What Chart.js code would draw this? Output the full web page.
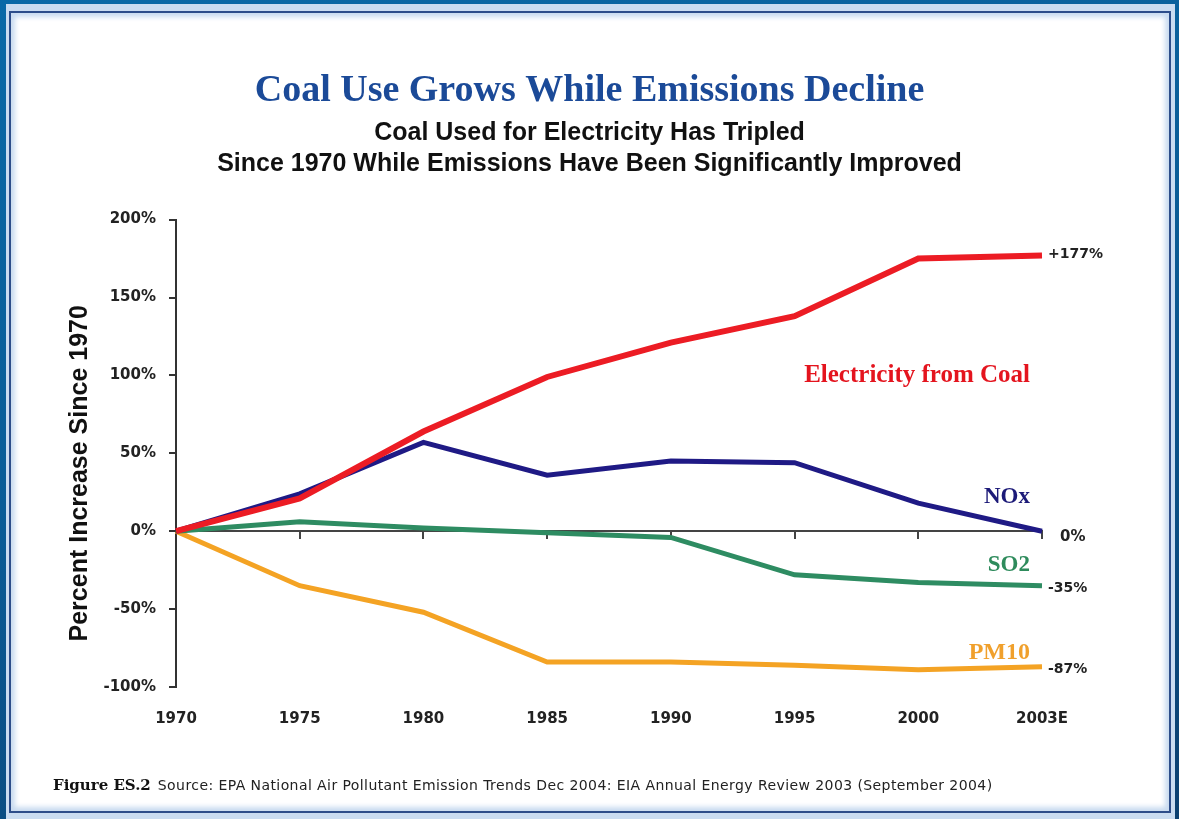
<!DOCTYPE html>
<html>
<head>
<meta charset="utf-8">
<script src="https://cdn.jsdelivr.net/npm/chart.js@4.4.1/dist/chart.umd.min.js"></script>
<style>
  html, body { margin: 0; padding: 0; width: 1179px; height: 819px; overflow: hidden; }
  body { position: relative; background: linear-gradient(165deg, #0a69a7 0%, #0a5c97 45%, #0b3f70 100%); }
  .frame { position: absolute; left: 6px; top: 4px; width: 1169px; height: 815px; background: #cadcf1; }
  .panel { position: absolute; left: 3px; top: 7px; width: 1158px; height: 798px; border: 2px solid #2d4d8a;
           background: #fff; box-shadow: inset 0 0 5px 4px #c9dbf0; }
  #chart { position: absolute; left: 0; top: 0; }
  .footer { position: absolute; left: 53px; top: 776px; white-space: nowrap; color: #222; }
  .footer .fig { font: bold 15px "DejaVu Serif", serif; color: #111; margin-right: 7px; }
  .footer .src { font: 14px "DejaVu Sans", sans-serif; letter-spacing: 0.42px; }
</style>
</head>
<body>
<div class="frame"><div class="panel"></div></div>
<canvas id="chart" width="1179" height="819"></canvas>
<div class="footer"><span class="fig">Figure ES.2</span><span class="src">Source: EPA National Air Pollutant Emission Trends Dec 2004: EIA Annual Energy Review 2003 (September 2004)</span></div>
<script>
// Percent change since 1970
const years = ['1970', '1975', '1980', '1985', '1990', '1995', '2000', '2003E'];
const coalElectricity = [0, 21, 64, 99, 121, 138, 175, 177];
const nox = [0, 24, 57, 36, 45, 44, 18, 0];
const so2 = [0, 6, 2, -1, -4, -28, -33, -35];
const pm10 = [0, -35, -52, -84, -84, -86, -89, -87];
const seriesNames = ['Electricity from Coal', 'NOx', 'SO2', 'PM10'];
const yMin = -100, yMax = 200, yStep = 50;
const yAxisTitle = 'Percent Increase Since 1970';

// Styling of each series, its name tag and its end-value tag
const looks = [
  { color: '#ec1c24', text: '#e4141e', width: 6, nameAt: 100, nameSize: 25, endDx: 6, endDy: -1, endSize: 14 },
  { color: '#1f1a85', text: '#1c1a78', width: 5, nameAt: 22, nameSize: 23, endDx: 18, endDy: 6, endSize: 15 },
  { color: '#2e8c62', text: '#2e8b5c', width: 5, nameAt: -22, nameSize: 23, endDx: 6, endDy: 3, endSize: 14 },
  { color: '#f4a324', text: '#f0a02c', width: 5, nameAt: -78, nameSize: 24, endDx: 6, endDy: 3, endSize: 14 }
];
const seriesValues = [coalElectricity, nox, so2, pm10];

const tagPlugin = {
  id: 'seriesTags',
  afterDraw(chart) {
    const { ctx, chartArea } = chart;
    const xs = chart.scales.x, ys = chart.scales.y;
    // vertical axis caption
    ctx.save();
    ctx.translate(80, (chartArea.top + chartArea.bottom) / 2 + 20);
    ctx.rotate(-Math.PI / 2);
    ctx.font = 'bold 25px "Liberation Sans", Arial, sans-serif';
    ctx.fillStyle = '#111';
    ctx.textAlign = 'center';
    ctx.textBaseline = 'middle';
    ctx.fillText(yAxisTitle, 0, 0);
    ctx.restore();

    chart.data.datasets.forEach((ds, i) => {
      const lk = looks[i];
      const last = ds.data.length - 1;
      const v = ds.data[last];
      const px = xs.getPixelForValue(last);
      ctx.save();
      // end value
      ctx.font = 'bold ' + lk.endSize + 'px "DejaVu Sans", sans-serif';
      ctx.fillStyle = '#222';
      ctx.textAlign = 'left';
      ctx.textBaseline = 'middle';
      ctx.fillText((v > 0 ? '+' : '') + v + '%', px + lk.endDx, ys.getPixelForValue(v) + lk.endDy);
      // series name
      ctx.font = 'bold ' + lk.nameSize + 'px "Liberation Serif", serif';
      ctx.fillStyle = lk.text;
      ctx.textAlign = 'right';
      ctx.fillText(ds.label, px - 12, ys.getPixelForValue(lk.nameAt));
      ctx.restore();
    });
  }
};

new Chart(document.getElementById('chart'), {
  type: 'line',
  data: {
    labels: years,
    datasets: seriesValues.map((vals, i) => ({
      label: seriesNames[i],
      data: vals,
      borderColor: looks[i].color,
      borderWidth: looks[i].width,
      pointRadius: 0,
      tension: 0,
      fill: false,
      borderJoinStyle: 'miter'
    }))
  },
  options: {
    responsive: false,
    animation: false,
    layout: { padding: { left: 0, right: 0, top: 10, bottom: 68 } },
    plugins: {
      legend: { display: false },
      tooltip: { enabled: false },
      title: {
        display: true,
        text: 'Coal Use Grows While Emissions Decline',
        color: '#1b4a98',
        font: { family: '"Liberation Serif", serif', size: 38, weight: 'bold', lineHeight: 1.2 },
        padding: { top: 58, bottom: 4 }
      },
      subtitle: {
        display: true,
        text: ['Coal Used for Electricity Has Tripled', 'Since 1970 While Emissions Have Been Significantly Improved'],
        color: '#111',
        font: { family: '"Liberation Sans", Arial, sans-serif', size: 25, weight: 'bold', lineHeight: 1.24 },
        padding: { top: 0, bottom: 40 }
      }
    },
    scales: {
      x: {
        type: 'category',
        offset: false,
        border: { display: false },
        grid: { display: false, drawTicks: false },
        ticks: { color: '#222', padding: 23, maxRotation: 0, font: { family: '"DejaVu Sans", sans-serif', size: 15, weight: 'bold' } }
      },
      xZero: {
        type: 'category',
        labels: years,
        offset: false,
        position: { y: 0 },
        border: { display: true, color: '#444', width: 2 },
        grid: { drawOnChartArea: false, drawTicks: true, tickLength: 7, tickColor: '#444', lineWidth: 2 },
        ticks: { display: false }
      },
      y: {
        min: yMin,
        max: yMax,
        border: { display: true, color: '#333', width: 2 },
        grid: { drawOnChartArea: false, drawTicks: true, tickLength: 7, tickColor: '#333', lineWidth: 2 },
        ticks: {
          stepSize: yStep,
          padding: 13,
          color: '#222',
          font: { family: '"DejaVu Sans", sans-serif', size: 15, weight: 'bold' },
          callback: v => v + '%'
        },
        afterFit(scale) { scale.width = 176; }
      },
      // empty right-hand band that leaves room for the end-value tags
      yRoom: {
        position: 'right',
        min: yMin,
        max: yMax,
        border: { display: false },
        grid: { display: false, drawTicks: false },
        ticks: { display: false },
        afterFit(scale) { scale.width = 137; }
      }
    }
  },
  plugins: [tagPlugin]
});
</script>
</body>
</html>
